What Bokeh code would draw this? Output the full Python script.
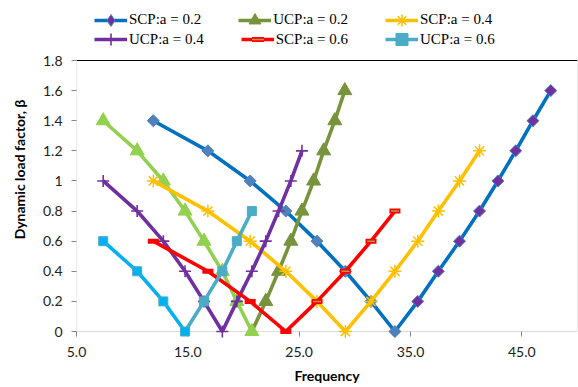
import numpy as np
from bokeh.plotting import figure
from bokeh.models import Range1d, FixedTicker, NumeralTickFormatter, Legend, LegendItem, Span, BoxAnnotation
from bokeh.embed import file_html
from bokeh.resources import INLINE

# ---- data ----
scp_freq = [11.9, 16.8, 20.6, 23.8, 26.6, 29.15, 31.45, 33.6, 35.65, 37.5, 39.4, 41.2, 42.85, 44.45, 46.0, 47.6]
ucp_freq = [7.4, 10.45, 12.8, 14.75, 16.45, 18.1, 19.4, 20.75, 22.0, 23.15, 24.25, 25.25, 26.3, 27.2, 28.2, 29.1]

scp02_beta = [1.4, 1.2, 1.0, 0.8, 0.6, 0.4, 0.2, 0.0, 0.2, 0.4, 0.6, 0.8, 1.0, 1.2, 1.4, 1.6]
ucp02_beta = [1.4, 1.2, 1.0, 0.8, 0.6, 0.4, 0.2, 0.0, 0.2, 0.4, 0.6, 0.8, 1.0, 1.2, 1.4, 1.6]
scp04_beta = [1.0, 0.8, 0.6, 0.4, 0.2, 0.0, 0.2, 0.4, 0.6, 0.8, 1.0, 1.2]
ucp04_beta = [1.0, 0.8, 0.6, 0.4, 0.2, 0.0, 0.2, 0.4, 0.6, 0.8, 1.0, 1.2]
scp06_beta = [0.6, 0.4, 0.2, 0.0, 0.2, 0.4, 0.6, 0.8]
ucp06_beta = [0.6, 0.4, 0.2, 0.0, 0.2, 0.4, 0.6, 0.8]

x_ticks = [5, 15, 25, 35, 45]
y_ticks = [0, 0.2, 0.4, 0.6, 0.8, 1.0, 1.2, 1.4, 1.6, 1.8]
x_min, x_max = 5, 50
y_min, y_max = 0, 1.8

labels = ["SCP:a = 0.2", "UCP:a = 0.2", "SCP:a = 0.4", "UCP:a = 0.4", "SCP:a = 0.6", "UCP:a = 0.6"]

TICK_FONT = "Lato"
LW = 3.6
# layout (pixels)
H = 387
PLOT_TOP, PLOT_BOTTOM = 60, 331     # plot-area edges on the page
EXT = 7                              # frame reaches a little below y=0 so zero markers are whole
frame_bottom = PLOT_BOTTOM + EXT
scale = (PLOT_BOTTOM - PLOT_TOP) / (y_max - y_min)
y_start = y_min - EXT / scale
y_top = y_max + PLOT_TOP / scale

p = figure(width=578, height=H, output_backend="svg", toolbar_location=None,
           x_range=Range1d(x_min, x_max), y_range=Range1d(y_start, y_top),
           min_border_left=76, min_border_right=1, min_border_top=0,
           min_border_bottom=H - frame_bottom)
p.xgrid.visible = False
p.ygrid.visible = False
p.outline_line_color = None
p.background_fill_color = "white"

for ax in (p.xaxis[0], p.yaxis[0]):
    ax.axis_line_color = None
    ax.major_tick_line_color = "#868686"
    ax.minor_tick_line_color = None
    ax.major_label_text_font = TICK_FONT
    ax.major_label_text_font_size = "14px"
    ax.major_label_text_color = "#222222"
    ax.axis_label_text_font = TICK_FONT
    ax.axis_label_text_font_size = "14px"
    ax.axis_label_text_font_style = "bold"
    ax.axis_label_text_color = "black"
p.yaxis.major_tick_in = 0
p.yaxis.major_tick_out = 5
p.xaxis.major_tick_in = EXT
p.xaxis.major_tick_out = -2

p.xaxis.ticker = FixedTicker(ticks=x_ticks)
p.yaxis.ticker = FixedTicker(ticks=y_ticks)
p.xaxis.formatter = NumeralTickFormatter(format="0.0")
p.yaxis.formatter = NumeralTickFormatter(format="0.[0]")
p.xaxis.axis_label = "Frequency"
p.yaxis.axis_label = "Dynamic load factor, β"
p.xaxis.major_label_standoff = 8
p.xaxis.axis_label_standoff = 7
p.yaxis.major_label_standoff = 9
p.yaxis.axis_label_standoff = 12

# plot-area border (also serves as the axis lines)
p.add_layout(BoxAnnotation(left=x_min, right=x_max, bottom=y_min, top=y_max, level="underlay",
                           fill_alpha=0, line_color="#868686", line_width=1.2))
p.add_layout(Span(location=y_max, dimension="width", line_color="black", line_width=1.2, level="underlay"))

ANG = np.pi / 4

def zero_idx(b):
    return int(np.argmin(b))

# SCP a=0.2
x = scp_freq[:len(scp02_beta)]; b = scp02_beta; z = zero_idx(b)
l_scp02 = p.line(x, b, line_color="#0070C0", line_width=LW)
# diamond used for the legend swatch; hidden beneath the rotated squares on the plot
m_scp02 = p.scatter(x[z+1:], b[z+1:], marker="diamond", size=9, fill_color="#7030A0", line_color="#4F81BD")
p.scatter(x[:z+1], b[:z+1], marker="square", angle=ANG, size=8.5, fill_color="#4F81BD", line_color="#4F81BD")
p.scatter(x[z+1:], b[z+1:], marker="square", angle=ANG, size=8.5, fill_color="#7030A0", line_color="#4F81BD")

# UCP a=0.2
x = ucp_freq[:len(ucp02_beta)]; b = ucp02_beta; z = zero_idx(b)
p.line(x[:z+1], b[:z+1], line_color="#92D050", line_width=LW)
l_ucp02 = p.line(x[z:], b[z:], line_color="#77933C", line_width=LW)
p.scatter(x[:z+1], b[:z+1], marker="triangle", size=14, fill_color="#92D050", line_color="#92D050")
m_ucp02 = p.scatter(x[z+1:], b[z+1:], marker="triangle", size=14, fill_color="#77933C", line_color="#77933C")

# SCP a=0.4
x = scp_freq[:len(scp04_beta)]; b = scp04_beta
l_scp04 = p.line(x, b, line_color="#FFC000", line_width=LW)
m_scp04 = p.scatter(x, b, marker="asterisk", size=13, line_color="#FFC000", line_width=1.5)

# UCP a=0.4
x = ucp_freq[:len(ucp04_beta)]; b = ucp04_beta
l_ucp04 = p.line(x, b, line_color="#7030A0", line_width=LW)
m_ucp04 = p.scatter(x, b, marker="cross", size=12, line_color="#7030A0", line_width=1.6)

# SCP a=0.6
x = scp_freq[:len(scp06_beta)]; b = scp06_beta; z = zero_idx(b)
l_scp06 = p.line(x, b, line_color="#FF0000", line_width=LW)
p.scatter(x[:z+1], b[:z+1], marker="dash", size=11, line_color="#FF0000", line_width=5)
m_scp06a = p.scatter(x[z+1:], b[z+1:], marker="dash", size=11, line_color="#FF0000", line_width=5)
m_scp06b = p.scatter(x[z+1:], b[z+1:], marker="dash", size=8, line_color="#C0904A", line_width=1.5)

# UCP a=0.6
x = ucp_freq[:len(ucp06_beta)]; b = ucp06_beta; z = zero_idx(b)
p.line(x[:z+1], b[:z+1], line_color="#00B0F0", line_width=LW)
l_ucp06 = p.line(x[z:], b[z:], line_color="#4BACC6", line_width=LW)
p.scatter(x[:z+1], b[:z+1], marker="square", size=9, fill_color="#00B0F0", line_color="#4BACC6")
m_ucp06 = p.scatter(x[z+1:], b[z+1:], marker="square", size=9, fill_color="#4BACC6", line_color="#4BACC6")

row1 = [LegendItem(label=labels[0], renderers=[l_scp02, m_scp02]),
        LegendItem(label=labels[1], renderers=[l_ucp02, m_ucp02]),
        LegendItem(label=labels[2], renderers=[l_scp04, m_scp04])]
row2 = [LegendItem(label=labels[3], renderers=[l_ucp04, m_ucp04]),
        LegendItem(label=labels[4], renderers=[l_scp06, m_scp06a, m_scp06b]),
        LegendItem(label=labels[5], renderers=[l_ucp06, m_ucp06])]

# legend rows centred at y = 19.5 and 39 px from the page top
for items, row_center in ((row1, 19.5), (row2, 39)):
    gh = 30
    loc = (18, frame_bottom - (row_center + gh / 2))
    lg = Legend(items=items, location=loc, orientation="horizontal",
                glyph_width=33, glyph_height=gh, label_standoff=2, spacing=37,
                padding=0, margin=0, border_line_color=None, background_fill_alpha=0,
                label_text_font="Liberation Serif", label_text_font_size="15px",
                label_text_color="black", label_height=18)
    p.add_layout(lg, "center")

open("out.html", "w").write(file_html(p, INLINE))
